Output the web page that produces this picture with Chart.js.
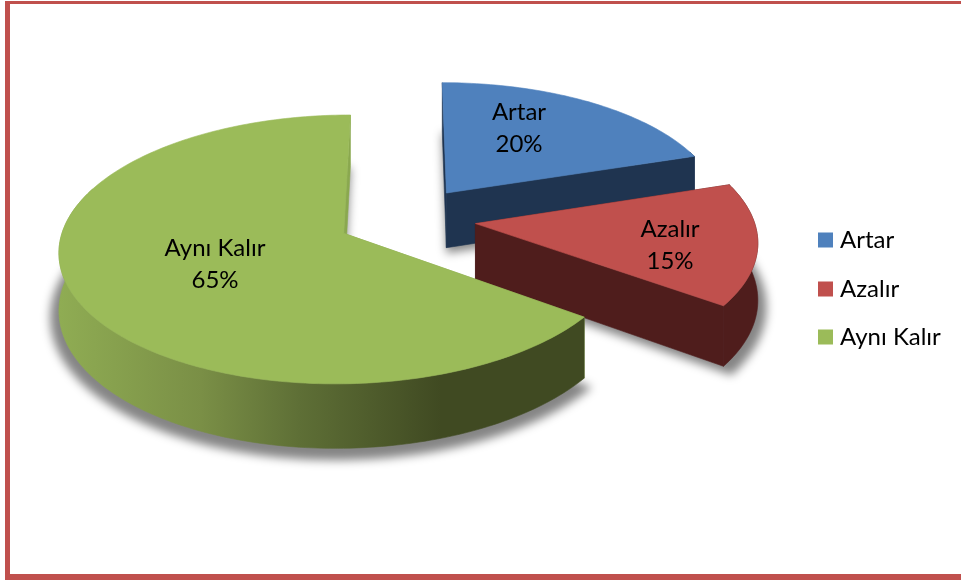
<!DOCTYPE html>
<html>
<head>
<meta charset="utf-8">
<style>
  html, body { margin: 0; background: #fff; overflow: hidden; }
  #frame {
    position: absolute; left: 5px; top: 1px; width: 1000px; height: 579px;
    box-sizing: border-box;
    border-left: 5px solid #c0504d; border-top: 3px solid #c0504d; border-bottom: 6px solid #c0504d;
  }
  #wrap { position: absolute; left: 0; top: 0; width: 961px; height: 581px; }
</style>
</head>
<body>
<div id="frame"></div>
<div id="wrap"><canvas id="pie"></canvas></div>
<script src="https://cdn.jsdelivr.net/npm/chart.js@4"></script>
<script>
const categories = ['Artar', 'Azalır', 'Aynı Kalır'];
const shares = [20, 15, 65];
const topColours = ['#4f81bd', '#c0504d', '#9bbb59'];
const wallColours = ['#1f3450', '#4f1d1c', null];
const cutColours = ['#1f3450', '#4f1d1c', '#8aa84f'];
const labelCentres = [[519, 128], [670, 245], [215, 264]];
const legendRows = [240, 289, 337];

const FONT = 'Lato, Carlito, sans-serif';

// pinhole-style view of the pie: x to the right, y towards the viewer, z down
const view = { cx: 406.5, cy: 218.5, ax: 278, ay: 129, persp: 0.118, depth: 56, explode: 0.25 };

function project(x, y, z) {
  const w = 1 - view.persp * y;
  return [view.cx + view.ax * x / w, view.cy + (view.ay * y + view.depth * z) / w];
}

function trace(ctx, pts) {
  ctx.beginPath();
  pts.forEach((p, i) => (i ? ctx.lineTo(p[0], p[1]) : ctx.moveTo(p[0], p[1])));
  ctx.closePath();
}

function paint(ctx, pts, colour) {
  ctx.fillStyle = colour;
  ctx.strokeStyle = colour;
  ctx.lineWidth = 0.6;
  trace(ctx, pts);
  ctx.fill();
  ctx.stroke();
}

// one wedge at height z, r is the radius in units of the pie
function wedgeRim(arc, z, r) {
  const mid = (arc.startAngle + arc.endAngle) / 2;
  const ox = Math.cos(mid) * view.explode;
  const oy = Math.sin(mid) * view.explode;
  const steps = Math.ceil((arc.endAngle - arc.startAngle) / 0.02);
  const rim = [];
  const front = [];
  for (let i = 0; i <= steps; i++) {
    const a = arc.startAngle + (arc.endAngle - arc.startAngle) * i / steps;
    const p = project(ox + Math.cos(a) * r, oy + Math.sin(a) * r, z);
    rim.push(p);
    // the far side of the rim is hidden behind the top face
    if (Math.sin(a) > -0.35) front.push(p);
  }
  return { apex: project(ox, oy, z), rim, front };
}

function greenWall(ctx) {
  const g = ctx.createLinearGradient(60, 0, 581, 0);
  g.addColorStop(0, '#8fac53');
  g.addColorStop(0.27, '#7a8f46');
  g.addColorStop(0.46, '#5e6f36');
  g.addColorStop(0.73, '#404a22');
  g.addColorStop(1, '#404a22');
  return g;
}

const pie3d = {
  id: 'pie3d',
  beforeDatasetsDraw(chart) {
    const ctx = chart.ctx;
    const arcs = chart.getDatasetMeta(0).data;

    // soft shadow under every wedge
    ctx.save();
    ctx.filter = 'blur(5px)';
    ctx.fillStyle = 'rgba(0,0,0,0.48)';
    arcs.forEach((arc) => {
      const s = wedgeRim(arc, 1.1, 1.03);
      trace(ctx, [s.apex, ...s.rim]);
      ctx.fill();
    });
    ctx.restore();

    arcs.forEach((arc, i) => {
      const top = wedgeRim(arc, 0, 1);
      const low = wedgeRim(arc, 1, 1);
      const last = top.rim.length - 1;

      paint(ctx, [top.apex, top.rim[0], low.rim[0], low.apex], cutColours[i]);
      if (top.front.length) {
        paint(ctx, [...top.front, ...low.front.slice().reverse()], wallColours[i] || greenWall(ctx));
      }
      paint(ctx, [top.apex, top.rim[last], low.rim[last], low.apex], cutColours[i]);
      paint(ctx, [top.apex, ...top.rim], topColours[i]);
    });

    // slice labels
    ctx.fillStyle = '#000';
    ctx.font = '24px ' + FONT;
    ctx.textAlign = 'center';
    ctx.textBaseline = 'middle';
    const total = shares.reduce((a, b) => a + b, 0);
    arcs.forEach((arc, i) => {
      const [x, y] = labelCentres[i];
      ctx.fillText(categories[i], x, y - 16);
      ctx.fillText(Math.round(shares[i] / total * 100) + '%', x, y + 16);
    });

    // legend
    ctx.textAlign = 'left';
    categories.forEach((name, i) => {
      ctx.fillStyle = topColours[i];
      ctx.fillRect(818, legendRows[i] - 7.5, 15, 15);
      ctx.fillStyle = '#000';
      ctx.fillText(name, 840, legendRows[i]);
    });
    return false;
  }
};

new Chart(document.getElementById('pie'), {
  type: 'pie',
  data: {
    labels: categories,
    datasets: [{ data: shares, backgroundColor: topColours }]
  },
  options: {
    responsive: true,
    maintainAspectRatio: false,
    animation: false,
    plugins: { legend: { display: false }, tooltip: { enabled: false } }
  },
  plugins: [pie3d]
});
</script>
</body>
</html>
